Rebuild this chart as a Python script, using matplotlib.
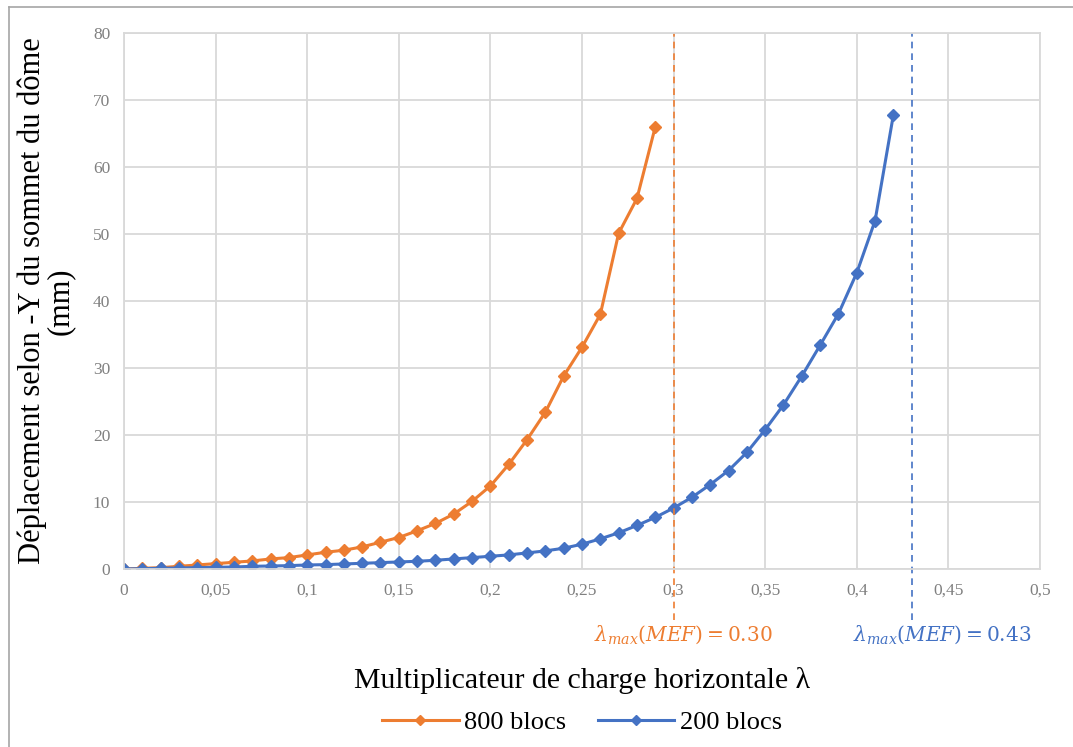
import matplotlib
matplotlib.use('Agg')
import matplotlib.pyplot as plt
from matplotlib.lines import Line2D

# données
lam_800 = [0, 0.01, 0.02, 0.03, 0.04, 0.05, 0.06, 0.07, 0.08, 0.09, 0.10,
           0.11, 0.12, 0.13, 0.14, 0.15, 0.16, 0.17, 0.18, 0.19, 0.20,
           0.21, 0.22, 0.23, 0.24, 0.25, 0.26, 0.27, 0.28, 0.29]
dep_800 = [0, 0.1, 0.2, 0.4, 0.6, 0.8, 1.0, 1.2, 1.5, 1.7, 2.1,
           2.5, 2.8, 3.3, 4.0, 4.7, 5.7, 6.8, 8.2, 10.1, 12.4,
           15.6, 19.3, 23.4, 28.8, 33.1, 38.0, 50.1, 55.3, 66.0]

lam_200 = [0, 0.01, 0.02, 0.03, 0.04, 0.05, 0.06, 0.07, 0.08, 0.09, 0.10,
           0.11, 0.12, 0.13, 0.14, 0.15, 0.16, 0.17, 0.18, 0.19, 0.20,
           0.21, 0.22, 0.23, 0.24, 0.25, 0.26, 0.27, 0.28, 0.29, 0.30,
           0.31, 0.32, 0.33, 0.34, 0.35, 0.36, 0.37, 0.38, 0.39, 0.40,
           0.41, 0.42]
dep_200 = [0, 0.05, 0.1, 0.15, 0.2, 0.25, 0.3, 0.4, 0.45, 0.5, 0.6,
           0.65, 0.75, 0.85, 0.95, 1.05, 1.15, 1.3, 1.5, 1.7, 1.9,
           2.1, 2.4, 2.7, 3.1, 3.7, 4.5, 5.4, 6.5, 7.7, 9.1,
           10.7, 12.6, 14.7, 17.4, 20.8, 24.5, 28.8, 33.4, 38.1, 44.2,
           52.0, 67.8]

lam_max_800 = 0.30
lam_max_200 = 0.43

x_ticks = [0, 0.05, 0.1, 0.15, 0.2, 0.25, 0.3, 0.35, 0.4, 0.45, 0.5]
x_labels = ['0', '0,05', '0,1', '0,15', '0,2', '0,25', '0,3', '0,35', '0,4', '0,45', '0,5']
y_ticks = [0, 10, 20, 30, 40, 50, 60, 70, 80]

orange = '#ED7D31'
bleu = '#4472C4'
gris = '#D9D9D9'

plt.rcParams['font.family'] = ['Liberation Serif', 'DejaVu Serif']
plt.rcParams['mathtext.fontset'] = 'dejavuserif'

fig = plt.figure(figsize=(10.73, 7.47), dpi=100)
ax = fig.add_axes([0.1156, 0.2383, 0.8536, 0.7175])

# courbes
ax.plot(lam_800, dep_800, color=orange, marker='D', markersize=6, linewidth=2.2, label='800 blocs')
ax.plot(lam_200, dep_200, color=bleu, marker='D', markersize=6, linewidth=2.2, label='200 blocs')

# lignes verticales lambda max
ax.axvline(lam_max_800, ymin=-0.095, ymax=1, color=orange, linestyle=(0, (4, 3)), linewidth=1.2, clip_on=False)
ax.axvline(lam_max_200, ymin=-0.095, ymax=1, color=bleu, linestyle=(0, (4, 3)), linewidth=1.2, clip_on=False)

ax.text(lam_max_800 + 0.0055, -9.8, r'$\lambda_{max}(MEF)=0.30$', color=orange, fontsize=14.5, ha='center', va='center')
ax.text(lam_max_200 + 0.0165, -9.8, r'$\lambda_{max}(MEF)=0.43$', color=bleu, fontsize=14.5, ha='center', va='center')

ax.set_xlim(0, 0.5)
ax.set_ylim(0, 80)
ax.set_xticks(x_ticks)
ax.set_xticklabels(x_labels)
ax.set_yticks(y_ticks)
ax.tick_params(length=0, labelsize=12.5, labelcolor='#808080', pad=10)

# grille
ax.grid(color=gris, linewidth=1.3)
ax.set_axisbelow(True)
for s in ax.spines.values():
    s.set_color(gris)
    s.set_linewidth(1.3)

ax.set_xlabel('Multiplicateur de charge horizontale λ', fontsize=21.5, labelpad=49)
ax.set_ylabel('Déplacement selon -Y du sommet du dôme\n(mm)', fontsize=22, labelpad=13, linespacing=0.95)

ax.legend(loc='upper center', bbox_to_anchor=(0.5, -0.22), ncol=2, frameon=False,
          fontsize=19, handlelength=2.9, columnspacing=1.2, handletextpad=0.2, markerscale=0.8)

# cadre extérieur (haut et gauche seulement visibles)
fig.add_artist(Line2D([0.0085, 1.0], [0.9906, 0.9906], transform=fig.transFigure, color='#A6A6A6', linewidth=1.2))
fig.add_artist(Line2D([0.0085, 0.0085], [0.0, 0.9906], transform=fig.transFigure, color='#A6A6A6', linewidth=1.2))

fig.savefig('out.png', dpi=100)
